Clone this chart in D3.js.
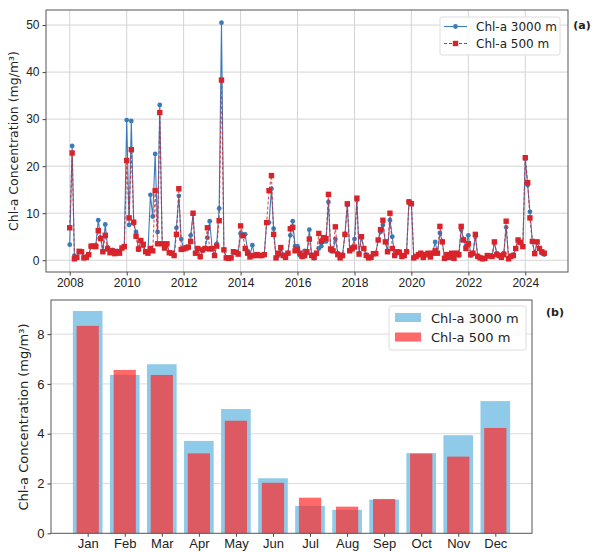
<!DOCTYPE html>
<html>
<head>
<meta charset="utf-8">
<script src="https://cdn.jsdelivr.net/npm/d3@7"></script>
<style>
  body { margin: 0; background: #fff; }
  svg { font-family: "DejaVu Sans", sans-serif; }
  .axis path { stroke: #444; }
  .axis line { stroke: #444; }
  .axis text { fill: #222; }
</style>
</head>
<body>
<svg id="chart" width="600" height="552"></svg>
<script>
// monthly series, Jan 2008 .. Sep 2024
const chl3000 = [
  3.3, 24.3, 1.0, 0.5, 1.8, 1.8, 0.6, 0.8, 1.2, 3.0, 2.8, 3.2,
  8.5, 4.8, 2.0, 7.6, 2.8, 1.8, 2.2, 1.5, 2.0, 1.6, 2.5, 3.0,
  29.8, 7.5, 29.6, 7.8, 6.0, 2.2, 4.2, 3.0, 1.8, 1.6, 13.9, 9.3,
  22.6, 6.0, 33.0, 3.6, 2.6, 3.4, 1.6, 1.5, 1.0, 6.9, 13.7, 4.5,
  2.5, 2.8, 2.6, 5.3, 9.8, 1.5, 2.4, 0.6, 2.0, 2.4, 4.8, 8.3,
  2.5, 1.0, 3.5, 11.0, 50.5, 2.2, 0.6, 0.4, 0.6, 1.8, 1.6, 1.5,
  5.7, 5.5, 5.5, 2.0, 1.0, 3.2, 1.0, 1.2, 1.1, 1.0, 1.3, 8.0,
  8.0, 15.2, 6.7, 0.5, 1.0, 2.5, 1.2, 0.5, 1.5, 5.3, 8.3, 3.0,
  3.0, 1.0, 0.7, 2.0, 1.5, 6.5, 1.2, 0.4, 1.3, 2.5, 3.0, 4.0,
  4.0, 12.4, 2.0, 2.0, 4.5, 1.5, 0.6, 1.2, 5.5, 11.8, 2.2, 2.8,
  4.5, 12.8, 1.5, 5.0, 2.5, 1.2, 0.6, 0.8, 1.3, 1.5, 4.3, 6.0,
  7.5, 3.9, 2.0, 8.5, 5.0, 1.0, 1.5, 1.8, 1.0, 1.0, 1.8, 12.5,
  12.2, 0.5, 0.8, 1.0, 1.5, 0.5, 1.0, 1.3, 0.8, 1.5, 3.9, 1.5,
  5.8, 3.9, 0.5, 1.0, 0.8, 1.3, 0.5, 1.5, 1.0, 6.5, 4.5, 3.0,
  5.3, 1.0, 1.5, 5.0, 1.0, 0.6, 0.3, 0.4, 1.0, 1.0, 0.8, 3.8,
  1.5, 1.0, 0.8, 1.5, 7.0, 0.5, 1.0, 1.2, 2.5, 4.3, 3.8, 2.9,
  21.6, 16.0, 10.3, 4.0, 1.4, 3.9, 2.5, 1.5, 1.2
];
const chl500 = [
  6.9, 22.8, 0.3, 0.6, 1.9, 1.8, 0.5, 0.6, 1.2, 3.0, 3.0, 2.9,
  6.3, 4.6, 1.8, 5.3, 2.4, 1.6, 2.0, 1.4, 1.8, 1.5, 2.6, 2.9,
  21.2, 9.0, 23.5, 8.1, 5.1, 2.4, 4.2, 3.4, 1.8, 1.5, 2.5, 2.0,
  14.8, 3.5, 31.4, 3.5, 2.6, 3.5, 1.6, 1.5, 1.0, 5.5, 15.2, 2.3,
  2.4, 2.6, 2.8, 4.0, 10.0, 1.5, 2.5, 0.8, 2.2, 2.5, 6.9, 2.4,
  2.5, 1.0, 3.0, 8.4, 38.3, 2.2, 0.5, 0.4, 0.5, 1.8, 1.7, 1.3,
  7.3, 5.2, 2.5, 1.5, 0.7, 1.0, 1.0, 1.2, 1.0, 1.0, 1.2, 8.0,
  14.8, 18.0, 5.5, 0.5, 1.5, 2.7, 1.0, 0.6, 1.5, 6.7, 7.0, 2.0,
  2.3, 1.5, 0.8, 1.0, 1.8, 4.5, 1.0, 0.6, 1.5, 5.7, 4.0, 4.8,
  4.6, 14.0, 2.4, 2.0, 7.1, 1.2, 0.5, 1.0, 5.5, 12.0, 2.0, 2.4,
  2.8, 13.2, 1.3, 5.0, 2.5, 1.0, 0.5, 0.6, 1.4, 1.4, 4.3, 6.5,
  8.5, 3.9, 1.8, 10.0, 2.5, 1.0, 1.8, 1.7, 0.8, 1.0, 1.8, 12.4,
  12.0, 0.5, 0.8, 1.2, 1.5, 0.6, 1.2, 1.5, 0.7, 1.5, 2.0, 1.5,
  7.2, 3.9, 0.4, 1.2, 0.6, 1.5, 0.4, 1.5, 1.2, 7.2, 4.3, 2.5,
  3.5, 1.2, 1.5, 5.5, 0.8, 0.5, 0.3, 0.4, 1.0, 0.9, 0.8, 3.9,
  1.2, 1.0, 0.6, 1.2, 8.3, 0.3, 0.8, 1.0, 2.5, 4.3, 3.8, 2.9,
  21.8, 16.5, 9.0, 4.0, 1.4, 3.9, 2.5, 1.8, 1.5
];
const yearTicks = [2008, 2010, 2012, 2014, 2016, 2018, 2020, 2022, 2024];
const topYTicks = [0, 10, 20, 30, 40, 50];

// monthly climatology
const months = ["Jan", "Feb", "Mar", "Apr", "May", "Jun", "Jul", "Aug", "Sep", "Oct", "Nov", "Dec"];
const clim3000 = [8.93, 6.36, 6.79, 3.71, 4.99, 2.21, 1.10, 0.94, 1.35, 3.22, 3.94, 5.31];
const clim500 = [8.33, 6.56, 6.36, 3.21, 4.52, 2.03, 1.43, 1.07, 1.38, 3.20, 3.08, 4.23];
const botYTicks = [0, 2, 4, 6, 8];

const blue = "#3b7cb8", red = "#d9232a";
const svg = d3.select("#chart");

// ---------- panel (a): time series ----------
const dates = chl3000.map((d, i) => new Date(2008, i, 1));
const t0 = dates[0], t1 = dates[dates.length - 1];
const pad = (t1 - t0) * 0.05;
const xa = d3.scaleTime()
  .domain([new Date(+t0 - pad), new Date(+t1 + pad)])
  .range([46, 568]);
const ya = d3.scaleLinear().domain([-2.5, 53.2]).range([272, 10]);

const ga = svg.append("g");
// grid
ga.append("g").selectAll("line").data(yearTicks).join("line")
  .attr("x1", d => xa(new Date(d, 0, 1))).attr("x2", d => xa(new Date(d, 0, 1)))
  .attr("y1", 10).attr("y2", 272)
  .attr("stroke", "#d4d4d4").attr("stroke-width", 1);
ga.append("g").selectAll("line").data(topYTicks).join("line")
  .attr("x1", 46).attr("x2", 568)
  .attr("y1", d => ya(d)).attr("y2", d => ya(d))
  .attr("stroke", "#d4d4d4").attr("stroke-width", 1);

ga.append("g").attr("class", "axis")
  .attr("transform", "translate(0,272)")
  .call(d3.axisBottom(xa).tickValues(yearTicks.map(y => new Date(y, 0, 1)))
    .tickFormat(d3.timeFormat("%Y")).tickSize(3.5).tickPadding(3))
  .call(g => g.select(".domain").remove())
  .selectAll("text").attr("font-size", 12);
ga.append("g").attr("class", "axis")
  .attr("transform", "translate(46,0)")
  .call(d3.axisLeft(ya).tickValues(topYTicks).tickSize(3.5).tickPadding(3))
  .call(g => g.select(".domain").remove())
  .selectAll("text").attr("font-size", 12);

ga.append("rect").attr("x", 46).attr("y", 10).attr("width", 522).attr("height", 262)
  .attr("fill", "none").attr("stroke", "#555").attr("stroke-width", 1);

const lineA = d3.line().x((d, i) => xa(dates[i])).y(d => ya(d));
ga.append("path").datum(chl3000)
  .attr("fill", "none").attr("stroke", blue).attr("stroke-width", 1.1)
  .attr("d", lineA);
ga.append("g").selectAll("circle").data(chl3000).join("circle")
  .attr("cx", (d, i) => xa(dates[i])).attr("cy", d => ya(d))
  .attr("r", 2.4).attr("fill", blue);
ga.append("path").datum(chl500)
  .attr("fill", "none").attr("stroke", red).attr("stroke-width", 1.1)
  .attr("stroke-dasharray", "3,2").attr("opacity", 0.8)
  .attr("d", lineA);
ga.append("g").selectAll("rect").data(chl500).join("rect")
  .attr("x", (d, i) => xa(dates[i]) - 2.7).attr("y", d => ya(d) - 2.7)
  .attr("width", 5.4).attr("height", 5.4).attr("fill", red);

ga.append("text").attr("transform", "translate(18,141) rotate(-90)")
  .attr("text-anchor", "middle").attr("font-size", 12.5).attr("fill", "#222")
  .text("Chl-a Concentration (mg/m³)");

// legend (a)
const la = ga.append("g");
la.append("rect").attr("x", 440).attr("y", 17).attr("width", 120).attr("height", 38)
  .attr("rx", 2).attr("fill", "#fff").attr("fill-opacity", 0.85).attr("stroke", "#ddd");
la.append("line").attr("x1", 444).attr("x2", 467).attr("y1", 26.5).attr("y2", 26.5)
  .attr("stroke", blue).attr("stroke-width", 1.1);
la.append("circle").attr("cx", 455.5).attr("cy", 26.5).attr("r", 2.4).attr("fill", blue);
la.append("line").attr("x1", 444).attr("x2", 467).attr("y1", 43.5).attr("y2", 43.5)
  .attr("stroke", red).attr("stroke-width", 1.1).attr("stroke-dasharray", "3,2");
la.append("rect").attr("x", 452.8).attr("y", 40.8).attr("width", 5.4).attr("height", 5.4).attr("fill", red);
la.append("text").attr("x", 476).attr("y", 31).attr("font-size", 12).attr("fill", "#222").text("Chl-a 3000 m");
la.append("text").attr("x", 476).attr("y", 48).attr("font-size", 12).attr("fill", "#222").text("Chl-a 500 m");

svg.append("text").attr("x", 582).attr("y", 29).attr("text-anchor", "middle")
  .attr("font-size", 11).attr("font-weight", "bold").attr("fill", "#222").text("(a)");

// ---------- panel (b): monthly bars ----------
const xb = d3.scaleLinear().domain([-0.99, 11.99]).range([51, 532]);
const yb = d3.scaleLinear().domain([0, 9.37]).range([533.3, 300]);
const gb = svg.append("g");

gb.append("g").selectAll("line").data(botYTicks.slice(1)).join("line")
  .attr("x1", 51).attr("x2", 532)
  .attr("y1", d => yb(d)).attr("y2", d => yb(d))
  .attr("stroke", "#dcdcdc").attr("stroke-width", 1);

gb.append("g").selectAll("rect").data(clim3000).join("rect")
  .attr("x", (d, i) => xb(i - 0.4)).attr("width", xb(0.4) - xb(-0.4))
  .attr("y", d => yb(d)).attr("height", d => yb(0) - yb(d))
  .attr("fill", "#8fcbe8");
gb.append("g").selectAll("rect").data(clim500).join("rect")
  .attr("x", (d, i) => xb(i - 0.3)).attr("width", xb(0.3) - xb(-0.3))
  .attr("y", d => yb(d)).attr("height", d => yb(0) - yb(d))
  .attr("fill", "#ff2a2a").attr("fill-opacity", 0.7);

gb.append("g").attr("class", "axis")
  .attr("transform", "translate(0,533.3)")
  .call(d3.axisBottom(xb).tickValues(d3.range(12)).tickFormat(i => months[i])
    .tickSize(3.5).tickPadding(2))
  .call(g => g.select(".domain").remove())
  .selectAll("text").attr("font-size", 13);
gb.append("g").attr("class", "axis")
  .attr("transform", "translate(51,0)")
  .call(d3.axisLeft(yb).tickValues(botYTicks).tickSize(3.5).tickPadding(3))
  .call(g => g.select(".domain").remove())
  .selectAll("text").attr("font-size", 13);

gb.append("rect").attr("x", 51).attr("y", 300).attr("width", 481).attr("height", 233.3)
  .attr("fill", "none").attr("stroke", "#555").attr("stroke-width", 1);

gb.append("text").attr("transform", "translate(28,417) rotate(-90)")
  .attr("text-anchor", "middle").attr("font-size", 13).attr("fill", "#222")
  .text("Chl-a Concentration (mg/m³)");

const lb = gb.append("g");
lb.append("rect").attr("x", 389).attr("y", 306).attr("width", 137).attr("height", 44)
  .attr("rx", 2).attr("fill", "#fff").attr("fill-opacity", 0.85).attr("stroke", "#ddd");
lb.append("rect").attr("x", 395).attr("y", 313).attr("width", 26).attr("height", 9).attr("fill", "#8fcbe8");
lb.append("rect").attr("x", 395).attr("y", 332.5).attr("width", 26).attr("height", 9)
  .attr("fill", "#ff2a2a").attr("fill-opacity", 0.7);
lb.append("text").attr("x", 431).attr("y", 322.5).attr("font-size", 13).attr("fill", "#222").text("Chl-a 3000 m");
lb.append("text").attr("x", 431).attr("y", 342).attr("font-size", 13).attr("fill", "#222").text("Chl-a 500 m");

svg.append("text").attr("x", 555).attr("y", 316).attr("text-anchor", "middle")
  .attr("font-size", 11).attr("font-weight", "bold").attr("fill", "#222").text("(b)");
</script>
</body>
</html>
